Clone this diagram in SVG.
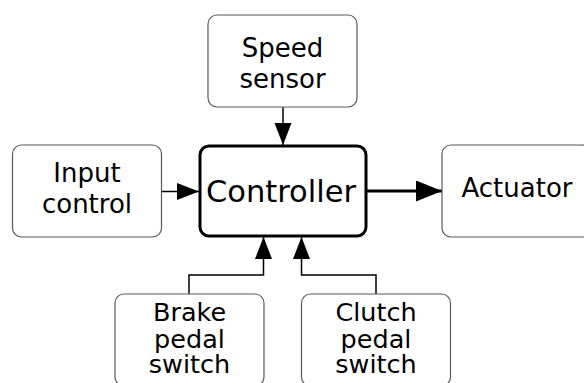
<svg xmlns="http://www.w3.org/2000/svg" width="584" height="383" viewBox="0 0 584 383">
<defs>
<style>
.box{fill:#fff;stroke:#5a5a5a;stroke-width:1.2}
.ctrl{fill:#fff;stroke:#000;stroke-width:3}
.t{font-family:"DejaVu Sans",sans-serif;font-size:26px;fill:#000;text-anchor:middle}
.tb{font-family:"DejaVu Sans",sans-serif;font-size:25.5px;fill:#000;text-anchor:middle}
.tc{font-family:"DejaVu Sans",sans-serif;font-size:30.5px;fill:#000;text-anchor:middle}
.ln{fill:none;stroke:#000;stroke-width:1.5}
.lnk{fill:none;stroke:#000;stroke-width:3}
</style>
<marker id="ah" markerUnits="userSpaceOnUse" markerWidth="24" markerHeight="18" refX="22" refY="8.5" orient="auto" viewBox="0 0 24 18">
<path d="M0,0 L22,8.5 L0,17 z" fill="#000"/>
</marker>
<marker id="ahk" markerUnits="userSpaceOnUse" markerWidth="28" markerHeight="22" refX="26" refY="10.5" orient="auto" viewBox="0 0 28 22">
<path d="M0,0 L26,10.5 L0,21 z" fill="#000"/>
</marker>
</defs>
<rect width="584" height="383" fill="#fff"/>
<g id="connectors">
<path class="ln" d="M283,107 V145" marker-end="url(#ah)"/>
<path class="ln" d="M161.5,191.5 H199" marker-end="url(#ah)"/>
<path class="lnk" d="M366,191 H442" marker-end="url(#ahk)"/>
<path class="ln" d="M189,294 V275 H263.5 V237" marker-end="url(#ah)"/>
<path class="ln" d="M376,294 V275 H301.5 V237" marker-end="url(#ah)"/>
</g>
<g id="speed-sensor">
<rect class="box" x="208" y="15" width="149" height="92" rx="9"/>
<text class="t" x="282.5" y="56.5">Speed</text>
<text class="t" x="282.5" y="87.5">sensor</text>
</g>
<g id="input-control">
<rect class="box" x="12.5" y="145" width="149" height="92" rx="9"/>
<text class="t" x="87" y="181.5">Input</text>
<text class="t" x="87" y="213">control</text>
</g>
<g id="controller">
<rect class="ctrl" x="200" y="146" width="166" height="90" rx="9"/>
<text class="tc" x="281" y="201.5">Controller</text>
</g>
<g id="actuator">
<rect class="box" x="442" y="145" width="149" height="92" rx="9"/>
<text class="t" x="517" y="196.5">Actuator</text>
</g>
<g id="brake-pedal-switch">
<rect class="box" x="115" y="294" width="149" height="92" rx="9"/>
<text class="tb" x="189.5" y="321">Brake</text>
<text class="tb" x="189.5" y="348">pedal</text>
<text class="tb" x="189.5" y="372.5">switch</text>
</g>
<g id="clutch-pedal-switch">
<rect class="box" x="301.5" y="294" width="149" height="92" rx="9"/>
<text class="tb" x="376" y="321">Clutch</text>
<text class="tb" x="376" y="348">pedal</text>
<text class="tb" x="376" y="372.5">switch</text>
</g>
</svg>
